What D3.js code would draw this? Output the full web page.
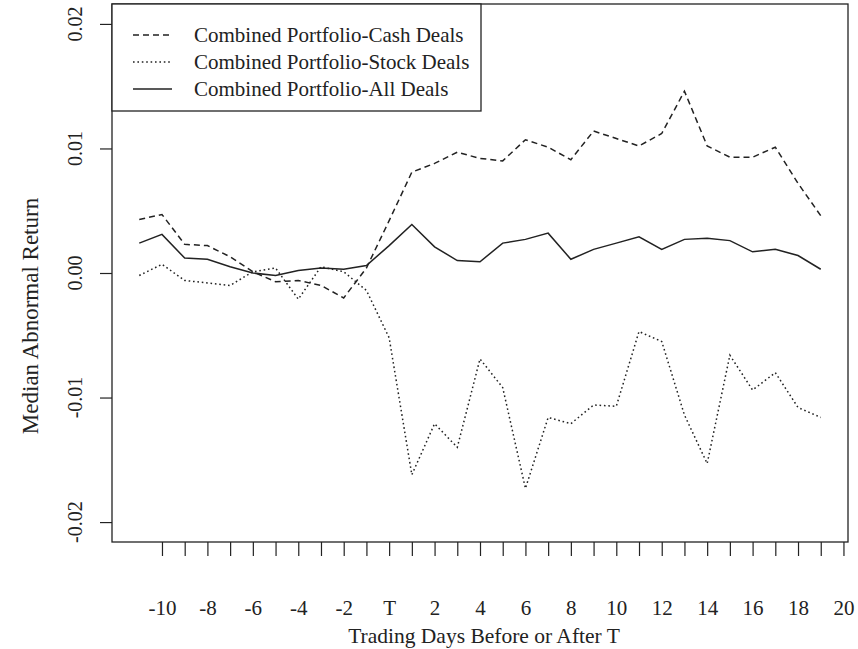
<!DOCTYPE html>
<html>
<head>
<meta charset="utf-8">
<script src="https://cdn.jsdelivr.net/npm/d3@7.9.0/dist/d3.min.js"></script>
<style>
  body { margin: 0; background: #fff; }
  svg { display: block; font-family: "Liberation Serif", "DejaVu Serif", serif; }
  text { fill: #222; }
</style>
</head>
<body>
<svg id="chart" width="858" height="649"></svg>
<script>
// trading days relative to T
const days = [-11, -10, -9, -8, -7, -6, -5, -4, -3, -2, -1, 0, 1, 2, 3, 4, 5, 6, 7, 8, 9, 10, 11, 12, 13, 14, 15, 16, 17, 18, 19];

const cashDeals = [0.0043, 0.0047, 0.0023, 0.0022, 0.0013, 0.0001, -0.0007, -0.0006, -0.0010, -0.0020, 0.0004,
  0.0042, 0.0081, 0.0088, 0.0097, 0.0092, 0.0090, 0.0107, 0.0101, 0.0091, 0.0114, 0.0108, 0.0102, 0.0112,
  0.0146, 0.0102, 0.0093, 0.0093, 0.0101, 0.0072, 0.0046];

const stockDeals = [-0.0002, 0.0007, -0.0006, -0.0008, -0.0010, 0.0001, 0.0004, -0.0021, 0.0005, 0.0001, -0.0014,
  -0.0052, -0.0162, -0.0121, -0.0140, -0.0069, -0.0092, -0.0173, -0.0116, -0.0121, -0.0106, -0.0107, -0.0047,
  -0.0055, -0.0114, -0.0153, -0.0066, -0.0094, -0.0080, -0.0108, -0.0116];

const allDeals = [0.0024, 0.0031, 0.0012, 0.0011, 0.0005, 0.0000, -0.0002, 0.0002, 0.0004, 0.0003, 0.0006,
  0.0022, 0.0039, 0.0021, 0.0010, 0.0009, 0.0024, 0.0027, 0.0032, 0.0011, 0.0019, 0.0024, 0.0029, 0.0019,
  0.0027, 0.0028, 0.0026, 0.0017, 0.0019, 0.0014, 0.0003];

const xTicks = [-10, -9, -8, -7, -6, -5, -4, -3, -2, -1, 0, 1, 2, 3, 4, 5, 6, 7, 8, 9, 10, 11, 12, 13, 14, 15, 16, 17, 18, 19, 20];
const yTicks = [-0.02, -0.01, 0, 0.01, 0.02];

const seriesNames = ['Combined Portfolio-Cash Deals', 'Combined Portfolio-Stock Deals', 'Combined Portfolio-All Deals'];

const svg = d3.select('#chart');
const ink = '#222';

// plot region (R style: limits padded by 4%)
const plot = { left: 112, right: 848, top: 4, bottom: 542 };
const x = d3.scaleLinear().domain([-12.2, 20.2]).range([plot.left, plot.right]);
const y = d3.scaleLinear().domain([-0.0216, 0.0216]).range([plot.bottom, plot.top]);

// x axis
const xAxis = svg.append('g').attr('transform', `translate(0,${plot.bottom})`)
  .call(d3.axisBottom(x).tickValues(xTicks).tickSize(14).tickPadding(44)
    .tickFormat((d) => (d === 0 ? 'T' : (d % 2 === 0 ? d : ''))));
xAxis.attr('font-family', null).attr('font-size', null);
xAxis.select('.domain').remove();
xAxis.selectAll('line').attr('stroke', ink).attr('stroke-width', 1.2);
xAxis.selectAll('text').attr('font-size', 21).attr('fill', ink);

// y axis, labels parallel to axis
const yAxis = svg.append('g').attr('transform', `translate(${plot.left},0)`)
  .call(d3.axisLeft(y).tickValues(yTicks).tickSize(12).tickFormat(''));
yAxis.select('.domain').remove();
yAxis.selectAll('line').attr('stroke', ink).attr('stroke-width', 1.2);

svg.append('g').selectAll('text').data(yTicks).join('text')
  .attr('transform', (d) => `translate(82,${y(d)}) rotate(-90)`)
  .attr('text-anchor', 'middle')
  .attr('font-size', 20)
  .text((d) => d.toFixed(2));

// frame
svg.append('rect')
  .attr('x', plot.left).attr('y', plot.top)
  .attr('width', plot.right - plot.left).attr('height', plot.bottom - plot.top)
  .attr('fill', 'none').attr('stroke', ink).attr('stroke-width', 1.3);

// axis titles
svg.append('text')
  .attr('x', 484).attr('y', 643)
  .attr('text-anchor', 'middle').attr('font-size', 21.5)
  .text('Trading Days Before or After T');

svg.append('text')
  .attr('transform', 'translate(38,316) rotate(-90)')
  .attr('text-anchor', 'middle').attr('font-size', 23)
  .text('Median Abnormal Return');

// lines
const styles = [
  { values: cashDeals, dash: '6,4' },
  { values: stockDeals, dash: '1.6,2.8' },
  { values: allDeals, dash: null }
];

const line = d3.line().x((d) => x(d[0])).y((d) => y(d[1]));

styles.forEach((s) => {
  svg.append('path')
    .datum(days.map((d, i) => [d, s.values[i]]))
    .attr('d', line)
    .attr('fill', 'none')
    .attr('stroke', ink)
    .attr('stroke-width', 1.5)
    .attr('stroke-dasharray', s.dash);
});

// legend
const legend = svg.append('g');
legend.append('rect')
  .attr('x', plot.left).attr('y', plot.top)
  .attr('width', 369).attr('height', 107)
  .attr('fill', '#fff').attr('stroke', ink).attr('stroke-width', 1.3);

seriesNames.forEach((name, i) => {
  const cy = 35 + i * 27;
  legend.append('line')
    .attr('x1', 133).attr('x2', 172).attr('y1', cy).attr('y2', cy)
    .attr('stroke', ink).attr('stroke-width', 1.5)
    .attr('stroke-dasharray', styles[i].dash);
  legend.append('text')
    .attr('x', 194).attr('y', cy + 7)
    .attr('font-size', 21)
    .text(name);
});
</script>
</body>
</html>
